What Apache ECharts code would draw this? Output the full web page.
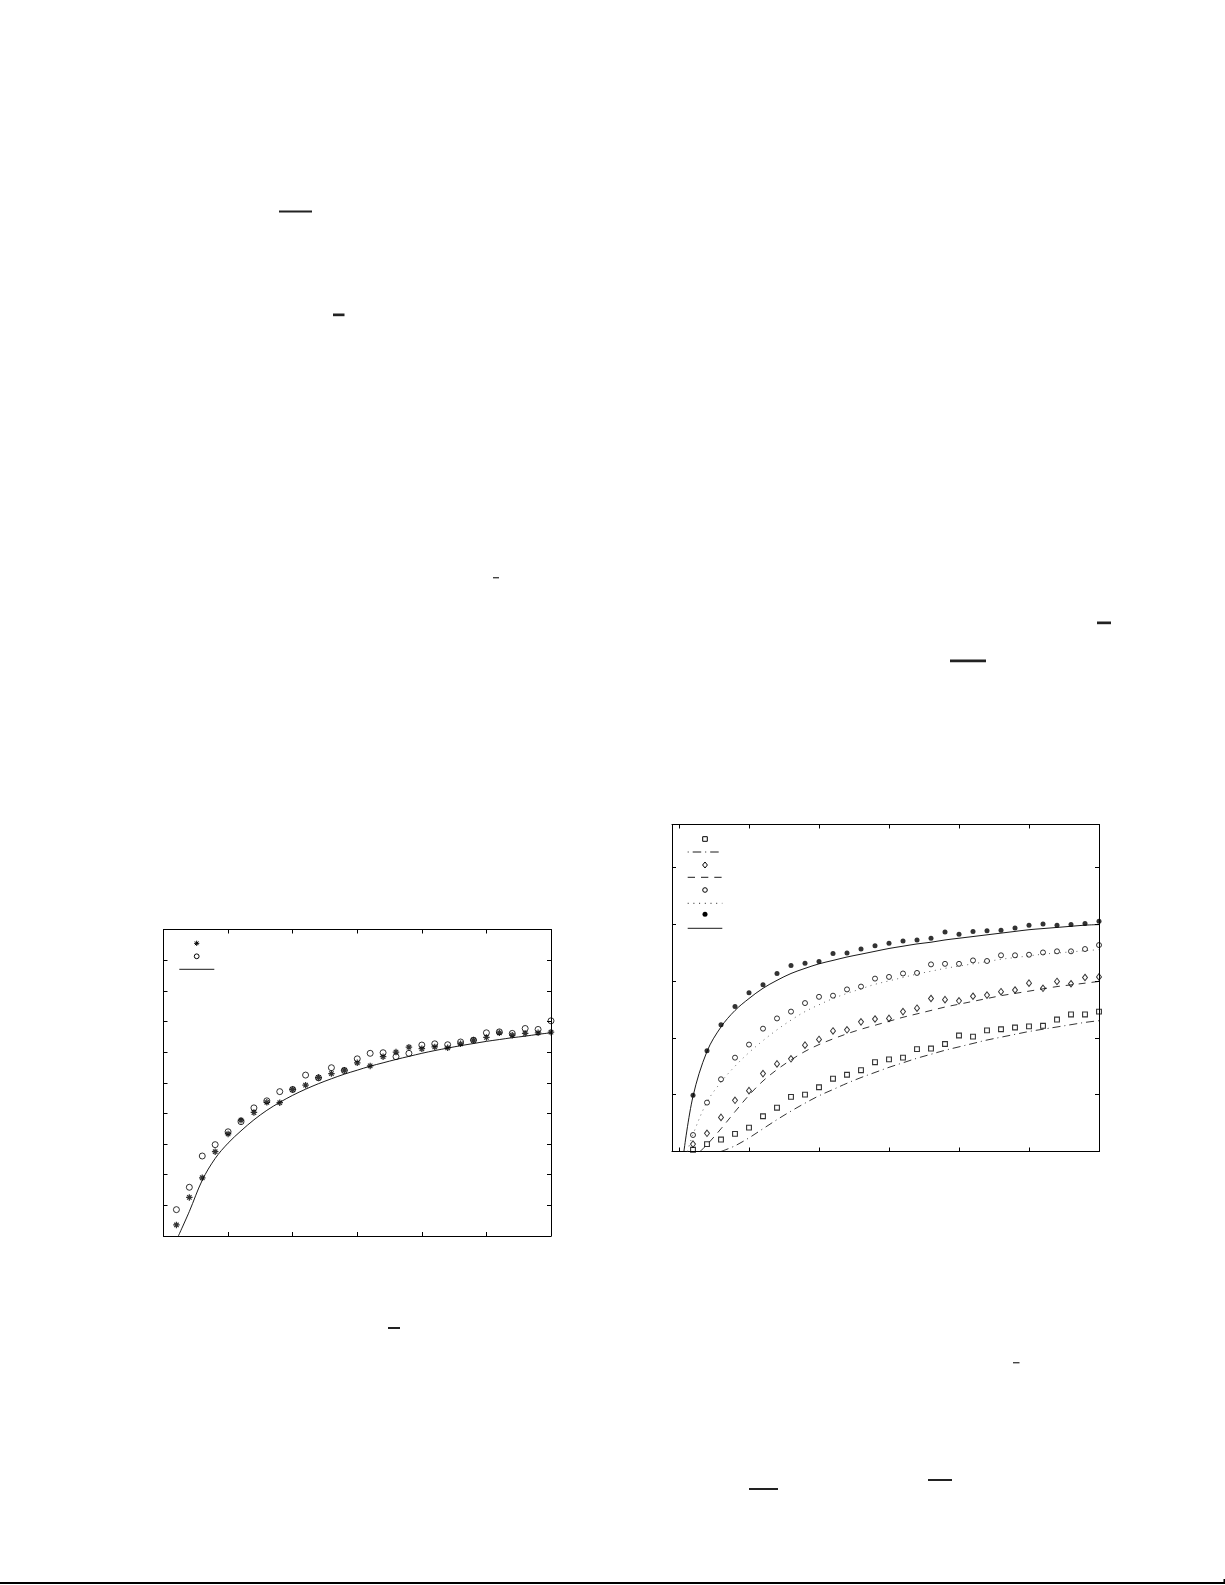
<!DOCTYPE html>
<html>
<head>
<meta charset="utf-8">
<script src="https://cdn.jsdelivr.net/npm/echarts@6/dist/echarts.min.js"></script>
<style>
html,body{margin:0;padding:0;background:#fff;}
#c{width:1225px;height:1585px;}
</style>
</head>
<body>
<div id="c"></div>
<script>
// ---------- Data ----------
// shared sample positions (x) for the measured points
const sampleX = [0.2,0.4,0.6,0.8,1.0,1.2,1.4,1.6,1.8,2.0,2.2,2.4,2.6,2.8,3.0,3.2,3.4,3.6,3.8,4.0,4.2,4.4,4.6,4.8,5.0,5.2,5.4,5.6,5.8,6.0];

// Chart 1 (left)
const c1Stars   = [0.36,1.26,1.90,2.75,3.33,3.78,4.03,4.36,4.35,4.78,4.92,5.17,5.30,5.41,5.65,5.55,5.85,6.00,6.16,6.11,6.17,6.14,6.27,6.39,6.48,6.63,6.55,6.61,6.63,6.65];
const c1Circles = [0.86,1.59,2.61,2.98,3.40,3.73,4.18,4.41,4.71,4.78,5.25,5.16,5.49,5.40,5.78,5.96,5.98,5.85,5.96,6.23,6.27,6.24,6.33,6.39,6.63,6.66,6.61,6.77,6.74,7.02];
const c1FitX = [0.23,0.4,0.6,0.8,1.0,1.2,1.4,1.6,1.8,2.0,2.2,2.4,2.6,2.8,3.0,3.2,3.4,3.6,3.8,4.0,4.2,4.4,4.6,4.8,5.0,5.2,5.4,5.6,5.8,6.0];
const c1FitY = [0,0.80,1.82,2.53,3.03,3.43,3.79,4.10,4.36,4.59,4.79,4.97,5.13,5.28,5.41,5.54,5.65,5.76,5.86,5.96,6.05,6.13,6.21,6.28,6.35,6.41,6.47,6.52,6.58,6.63];

// Chart 2 (right)
const c2Squares  = [0.03,0.13,0.21,0.31,0.42,0.62,0.77,0.96,1.00,1.13,1.28,1.35,1.43,1.57,1.62,1.65,1.80,1.81,1.89,2.04,2.02,2.13,2.15,2.18,2.20,2.21,2.32,2.41,2.41,2.46];
const c2Diamonds = [0.13,0.32,0.60,0.90,1.07,1.37,1.54,1.63,1.87,1.97,2.12,2.14,2.28,2.33,2.34,2.46,2.52,2.69,2.67,2.65,2.73,2.75,2.81,2.84,2.96,2.87,2.99,2.95,3.06,3.07];
const c2Open     = [0.29,0.86,1.27,1.65,1.88,2.16,2.34,2.46,2.61,2.72,2.74,2.85,2.90,3.04,3.07,3.13,3.14,3.29,3.30,3.30,3.36,3.35,3.45,3.45,3.46,3.50,3.52,3.52,3.56,3.63];
const c2Filled   = [0.99,1.77,2.23,2.55,2.79,2.93,3.13,3.27,3.31,3.34,3.48,3.49,3.56,3.62,3.66,3.70,3.72,3.75,3.86,3.82,3.87,3.88,3.89,3.93,3.98,4.00,3.98,3.99,4.01,4.05];

const c2DashDotX = [0.6,0.8,1.0,1.2,1.4,1.6,1.8,2.0,2.2,2.4,2.6,2.8,3.0,3.2,3.4,3.6,3.8,4.0,4.2,4.4,4.6,4.8,5.0,5.2,5.4,5.6,5.8,6.0];
const c2DashDotY = [0,0.10,0.24,0.40,0.56,0.71,0.85,0.98,1.09,1.20,1.30,1.39,1.48,1.56,1.64,1.71,1.78,1.84,1.90,1.96,2.01,2.06,2.11,2.15,2.19,2.23,2.27,2.30];
const c2DashedX  = [0.3,0.4,0.6,0.8,1.0,1.2,1.4,1.6,1.8,2.0,2.2,2.4,2.6,2.8,3.0,3.2,3.4,3.6,3.8,4.0,4.2,4.4,4.6,4.8,5.0,5.2,5.4,5.6,5.8,6.0];
const c2DashedY  = [0,0.12,0.40,0.70,0.99,1.24,1.44,1.61,1.76,1.88,1.98,2.07,2.15,2.22,2.29,2.36,2.42,2.48,2.54,2.59,2.64,2.69,2.74,2.78,2.82,2.86,2.90,2.93,2.96,2.99];
const c2DottedX  = [0.12,0.2,0.4,0.6,0.8,1.0,1.2,1.4,1.6,1.8,2.0,2.2,2.4,2.6,2.8,3.0,3.2,3.4,3.6,3.8,4.0,4.2,4.4,4.6,4.8,5.0,5.2,5.4,5.6,5.8,6.0];
const c2DottedY  = [0,0.30,0.87,1.22,1.50,1.74,1.95,2.14,2.31,2.46,2.58,2.69,2.78,2.86,2.94,3.00,3.06,3.12,3.17,3.22,3.26,3.30,3.34,3.38,3.41,3.44,3.47,3.49,3.51,3.53,3.55];
const c2SolidX   = [0.07,0.2,0.4,0.6,0.8,1.0,1.2,1.4,1.6,1.8,2.0,2.2,2.4,2.6,2.8,3.0,3.2,3.4,3.6,3.8,4.0,4.2,4.4,4.6,4.8,5.0,5.2,5.4,5.6,5.8,6.0];
const c2SolidY   = [0,0.97,1.76,2.19,2.48,2.69,2.87,3.01,3.13,3.22,3.30,3.36,3.42,3.47,3.52,3.57,3.61,3.65,3.68,3.72,3.75,3.78,3.81,3.84,3.87,3.90,3.92,3.94,3.96,3.98,3.99];

// axis tick positions
const c1XTicks = [0,1,2,3,4,5,6];
const c1YTicks = [0,1,2,3,4,5,6,7,8,9,10];
const c2XTicks = [0,1,2,3,4,5,6];
const c2YTicks = [0,1,2,3,4,5];

// ---------- Helpers ----------
const zip = (xs, ys) => xs.map((x, i) => [x, ys[i]]);
const BLACK = '#000';
const STAR = 'path://M5,0L5,10M0,5L10,5M1.6,1.6L8.4,8.4M1.6,8.4L8.4,1.6';

function axis(gridIndex, position, min, max, ticks) {
  return {
    type: 'value', gridIndex, position, min, max,
    axisLine: { show: true, onZero: false, lineStyle: { color: BLACK, width: 1 } },
    axisTick: { show: true, inside: true, length: 4, customValues: ticks, lineStyle: { color: BLACK, width: 1 } },
    axisLabel: { show: false },
    splitLine: { show: false }
  };
}

// legend keys (drawn as plain graphics, the reference legend has no text)
const S = { stroke: BLACK, fill: 'none', lineWidth: 1 };
function hline(x1, x2, y, dash) {
  return { type: 'line', shape: { x1, y1: y, x2, y2: y }, style: { stroke: BLACK, lineWidth: 0.9, lineDash: dash || null } };
}
function starKey(cx, cy, r) {
  const d = r * 0.7;
  return { type: 'group', children: [
    { type: 'line', shape: { x1: cx, y1: cy - r, x2: cx, y2: cy + r }, style: S },
    { type: 'line', shape: { x1: cx - r, y1: cy, x2: cx + r, y2: cy }, style: S },
    { type: 'line', shape: { x1: cx - d, y1: cy - d, x2: cx + d, y2: cy + d }, style: S },
    { type: 'line', shape: { x1: cx - d, y1: cy + d, x2: cx + d, y2: cy - d }, style: S }
  ]};
}

const legendGraphics = [
  // chart 1
  starKey(196.7, 943.3, 2.6),
  { type: 'circle', shape: { cx: 196.7, cy: 956.3, r: 2.4 }, style: S },
  hline(179.3, 214.3, 969.3),
  // chart 2
  { type: 'rect', shape: { x: 702.7, y: 836.7, width: 4.6, height: 4.6 }, style: S },
  hline(687.7, 722.3, 852, [1, 4, 8.5, 4]),
  { type: 'polygon', shape: { points: [[705, 862], [707.4, 865], [705, 868], [702.6, 865]] }, style: S },
  hline(687.7, 722.3, 877.3, [7.3, 6]),
  { type: 'circle', shape: { cx: 705, cy: 890, r: 2.3 }, style: S },
  hline(687.7, 722.3, 903.3, [1, 4.7]),
  { type: 'circle', shape: { cx: 705, cy: 914.3, r: 2.5 }, style: { fill: BLACK } },
  hline(687.7, 722.3, 928.3)
];

const option = {
  animation: false,
  backgroundColor: '#fff',
  grid: [
    { left: 163.5, top: 929.5, width: 387.5, height: 306.5, containLabel: false },
    { left: 672, top: 824.5, width: 427, height: 327, containLabel: false }
  ],
  xAxis: [
    axis(0, 'bottom', 0, 6, c1XTicks),
    axis(0, 'top', 0, 6, c1XTicks),
    axis(1, 'bottom', -0.1, 6, c2XTicks),
    axis(1, 'top', -0.1, 6, c2XTicks)
  ],
  yAxis: [
    axis(0, 'left', 0, 10, c1YTicks),
    axis(0, 'right', 0, 10, c1YTicks),
    axis(1, 'left', 0, 5.75, c2YTicks),
    axis(1, 'right', 0, 5.75, c2YTicks)
  ],
  series: [
    // ----- chart 1 -----
    {
      name: 'c1 stars', type: 'scatter', xAxisIndex: 0, yAxisIndex: 0,
      data: zip(sampleX, c1Stars), symbol: STAR, symbolSize: 6.5,
      itemStyle: { color: 'transparent', borderColor: BLACK, borderWidth: 1.25 }, z: 3
    },
    {
      name: 'c1 circles', type: 'scatter', xAxisIndex: 0, yAxisIndex: 0,
      data: zip(sampleX, c1Circles), symbol: 'circle', symbolSize: 6,
      itemStyle: { color: 'transparent', borderColor: BLACK, borderWidth: 1 }, z: 3
    },
    {
      name: 'c1 fit', type: 'line', xAxisIndex: 0, yAxisIndex: 0,
      data: zip(c1FitX, c1FitY), symbol: 'none', smooth: 0.35,
      lineStyle: { color: BLACK, width: 0.9 }, clip: true
    },
    // ----- chart 2 -----
    {
      name: 'c2 squares', type: 'scatter', xAxisIndex: 2, yAxisIndex: 2,
      data: zip(sampleX, c2Squares), symbol: 'rect', symbolSize: 4.8,
      itemStyle: { color: 'transparent', borderColor: BLACK, borderWidth: 1.1 }, z: 3
    },
    {
      name: 'c2 dashdot', type: 'line', xAxisIndex: 2, yAxisIndex: 2,
      data: zip(c2DashDotX, c2DashDotY), symbol: 'none', smooth: 0.35,
      lineStyle: { color: BLACK, width: 0.8, type: [8, 4, 1, 4] }
    },
    {
      name: 'c2 diamonds', type: 'scatter', xAxisIndex: 2, yAxisIndex: 2,
      data: zip(sampleX, c2Diamonds), symbol: 'diamond', symbolSize: [5, 6.5],
      itemStyle: { color: 'transparent', borderColor: BLACK, borderWidth: 1 }, z: 3
    },
    {
      name: 'c2 dashed', type: 'line', xAxisIndex: 2, yAxisIndex: 2,
      data: zip(c2DashedX, c2DashedY), symbol: 'none', smooth: 0.35,
      lineStyle: { color: BLACK, width: 0.8, type: [7, 6] }
    },
    {
      name: 'c2 open', type: 'scatter', xAxisIndex: 2, yAxisIndex: 2,
      data: zip(sampleX, c2Open), symbol: 'circle', symbolSize: 5,
      itemStyle: { color: 'transparent', borderColor: BLACK, borderWidth: 1 }, z: 3
    },
    {
      name: 'c2 dotted', type: 'line', xAxisIndex: 2, yAxisIndex: 2,
      data: zip(c2DottedX, c2DottedY), symbol: 'none', smooth: 0.35,
      lineStyle: { color: '#555', width: 0.9, type: [1, 4.5] }
    },
    {
      name: 'c2 filled', type: 'scatter', xAxisIndex: 2, yAxisIndex: 2,
      data: zip(sampleX, c2Filled), symbol: 'circle', symbolSize: 5,
      itemStyle: { color: BLACK }, z: 3
    },
    {
      name: 'c2 solid', type: 'line', xAxisIndex: 2, yAxisIndex: 2,
      data: zip(c2SolidX, c2SolidY), symbol: 'none', smooth: 0.35,
      lineStyle: { color: BLACK, width: 0.9 }
    }
  ],
  graphic: legendGraphics.concat([
    // leftover rule marks on the page (no data)
    { type: 'rect', shape: { x: 279, y: 210.5, width: 33, height: 2 }, style: { fill: '#222' } },
    { type: 'rect', shape: { x: 333, y: 313.5, width: 11.5, height: 2.7 }, style: { fill: '#222' } },
    { type: 'rect', shape: { x: 493, y: 577, width: 6, height: 1.4 }, style: { fill: '#444' } },
    { type: 'rect', shape: { x: 1097, y: 621.5, width: 14, height: 2.7 }, style: { fill: '#222' } },
    { type: 'rect', shape: { x: 950, y: 659.5, width: 36, height: 2.7 }, style: { fill: '#222' } },
    { type: 'rect', shape: { x: 388, y: 1327, width: 12, height: 2 }, style: { fill: '#222' } },
    { type: 'rect', shape: { x: 1013, y: 1362, width: 6.5, height: 1.4 }, style: { fill: '#444' } },
    { type: 'rect', shape: { x: 928, y: 1479, width: 24, height: 2 }, style: { fill: '#222' } },
    { type: 'rect', shape: { x: 749, y: 1488, width: 29, height: 2 }, style: { fill: '#222' } },
    { type: 'rect', shape: { x: 0, y: 1582, width: 1225, height: 2 }, style: { fill: '#000' } },
    { type: 'rect', shape: { x: 1223.5, y: 1579, width: 1.5, height: 4 }, style: { fill: '#000' } }
  ])
};

const chart = echarts.init(document.getElementById('c'), null, { renderer: 'canvas' });
chart.setOption(option);
</script>
</body>
</html>
